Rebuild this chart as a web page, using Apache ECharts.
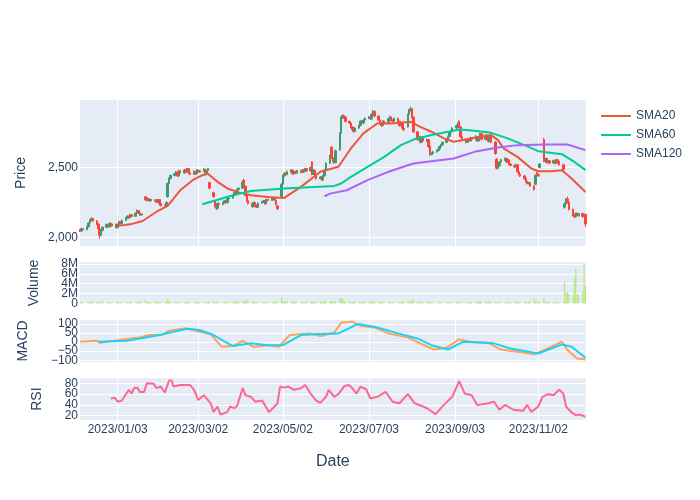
<!DOCTYPE html>
<html><head><meta charset="utf-8">
<script src="https://cdn.jsdelivr.net/npm/echarts@6/dist/echarts.min.js"></script>
<style>html,body{margin:0;padding:0;background:#fff}#chart{width:700px;height:500px}</style>
</head><body><div id="chart"></div>
<script>
// ---------- data ----------
const startDate = '2022-12-07';            // first trading day (business days follow)
const xTickDates = ['2023-01-03','2023-03-02','2023-05-02','2023-07-03','2023-09-03','2023-11-02'];
const priceTicks = [2000, 2500];
const volumeTicks = [0, 2, 4, 6, 8];        // millions
const macdTicks = [-100, -50, 0, 50, 100];
const rsiTicks = [20, 40, 60, 80];
const legendNames = ['SMA20', 'SMA60', 'SMA120'];

// [open, close, low, high] per business day, one line per week
const candles = [
[2055,2045,2038,2060],[2045,2062,2040,2068],[2062,2055,2048,2066],
[2055,2075,2050,2080],[2075,2102,2070,2108],[2102,2125,2098,2130],[2125,2135,2118,2142],[2135,2118,2110,2140],
[2118,2095,2088,2122],[2095,2060,2052,2100],[2060,2015,1990,2064],[2015,2050,2008,2056],[2050,2072,2044,2078],
[2072,2092,2066,2098],[2092,2075,2068,2096],[2075,2100,2070,2106],[2100,2082,2076,2104],[2082,2095,2078,2100],
[2095,2070,2062,2098],[2070,2092,2065,2097],[2092,2112,2088,2118],[2112,2098,2090,2115],[2098,2122,2094,2128],
[2122,2138,2118,2144],[2138,2152,2132,2158],[2152,2140,2134,2156],[2140,2162,2136,2168],[2162,2150,2144,2166],
[2150,2172,2146,2178],[2172,2192,2166,2200],[2192,2175,2168,2196],[2175,2160,2152,2180],[2160,2165,2154,2170],
[2290,2268,2262,2296],[2268,2280,2262,2286],[2280,2262,2256,2284],[2262,2272,2256,2278],[2272,2262,2255,2276],
[2262,2268,2256,2274],[2268,2252,2246,2272],[2252,2270,2248,2275],[2270,2242,2236,2274],[2242,2228,2220,2246],
[2228,2222,2212,2234],[2222,2250,2218,2256],[2290,2385,2285,2392],[2385,2420,2378,2428],[2420,2442,2414,2450],
[2442,2455,2436,2462],[2455,2468,2450,2475],[2468,2440,2432,2472],[2440,2478,2436,2485],[2478,2460,2452,2482],
[2460,2482,2455,2490],[2482,2470,2462,2488],[2470,2492,2465,2498],[2492,2462,2455,2495],[2462,2452,2444,2468],
[2452,2472,2448,2478],[2472,2455,2448,2476],[2455,2482,2450,2488],[2482,2468,2460,2486],[2468,2476,2462,2482],
[2476,2488,2470,2494],[2488,2462,2456,2492],[2462,2478,2458,2484],[2478,2492,2472,2498],[2392,2352,2345,2398],
[2320,2290,2284,2326],[2262,2222,2215,2268],[2222,2208,2196,2228],[2208,2242,2202,2248],[2242,2236,2228,2250],
[2236,2248,2230,2254],[2248,2262,2242,2268],[2262,2248,2240,2266],[2248,2276,2244,2282],[2276,2282,2270,2288],
[2282,2300,2276,2306],[2300,2322,2296,2328],[2322,2310,2304,2326],[2310,2342,2306,2348],[2342,2352,2336,2360],
[2352,2395,2348,2410],[2410,2365,2358,2418],[2365,2300,2292,2370],[2300,2262,2254,2305],[2262,2242,2235,2268],
[2242,2220,2212,2246],[2220,2250,2215,2256],[2250,2232,2226,2255],[2232,2215,2208,2236],[2215,2245,2210,2250],
[2245,2252,2240,2258],[2252,2262,2246,2268],[2262,2240,2234,2266],[2240,2270,2236,2276],[2270,2265,2258,2276],
[2265,2280,2260,2286],[2280,2268,2262,2284],[2268,2285,2262,2290],[2262,2235,2228,2266],[2225,2205,2196,2230],
[2290,2380,2286,2388],[2380,2440,2376,2448],[2440,2458,2434,2466],[2458,2450,2442,2464],[2450,2470,2444,2478],
[2470,2482,2464,2488],[2482,2455,2448,2486],[2455,2472,2450,2478],[2472,2460,2452,2476],[2460,2478,2455,2484],
[2478,2465,2458,2482],[2465,2482,2460,2488],[2482,2470,2462,2486],[2470,2492,2466,2498],[2492,2476,2470,2496],
[2476,2500,2470,2506],[2540,2450,2444,2545],[2450,2480,2445,2486],[2480,2440,2432,2484],[2440,2420,2412,2446],
[2420,2432,2414,2438],[2432,2410,2404,2436],[2410,2440,2406,2446],[2440,2480,2436,2488],[2480,2530,2476,2540],
[2530,2580,2526,2590],[2645,2570,2562,2652],[2570,2545,2538,2575],[2545,2535,2526,2552],[2535,2620,2530,2628],
[2625,2745,2620,2752],[2745,2855,2740,2865],[2855,2872,2848,2880],[2872,2860,2850,2878],[2860,2830,2822,2866],
[2830,2818,2810,2836],[2818,2790,2782,2822],[2790,2770,2762,2796],[2770,2758,2750,2776],[2758,2782,2752,2788],
[2782,2800,2776,2806],[2800,2832,2796,2838],[2832,2818,2810,2836],[2818,2840,2812,2846],[2840,2852,2834,2858],
[2852,2862,2846,2868],[2862,2848,2840,2866],[2848,2880,2844,2886],[2880,2902,2874,2910],[2902,2868,2860,2906],
[2868,2840,2834,2872],[2840,2822,2814,2846],[2822,2800,2792,2826],[2800,2832,2796,2838],[2832,2818,2810,2836],
[2818,2850,2814,2856],[2850,2862,2844,2870],[2862,2840,2832,2866],[2840,2830,2822,2846],[2830,2852,2826,2858],
[2852,2830,2824,2856],[2830,2800,2792,2834],[2800,2822,2796,2828],[2822,2782,2776,2826],[2782,2770,2762,2788],
[2790,2880,2786,2886],[2880,2910,2874,2918],[2910,2920,2900,2935],[2920,2860,2852,2926],[2860,2755,2748,2864],
[2755,2700,2692,2760],[2700,2722,2694,2728],[2722,2680,2672,2726],[2680,2712,2676,2718],[2712,2690,2682,2716],
[2690,2700,2684,2708],[2700,2650,2642,2704],[2650,2592,2584,2655],[2592,2602,2586,2608],[2602,2612,2596,2618],
[2612,2622,2606,2628],[2622,2632,2616,2638],[2632,2650,2626,2656],[2650,2662,2644,2668],[2662,2680,2656,2686],
[2680,2700,2674,2706],[2700,2722,2694,2728],[2722,2750,2716,2756],[2750,2762,2744,2770],[2762,2782,2756,2790],
[2782,2800,2776,2808],[2800,2815,2794,2822],[2830,2790,2782,2838],[2790,2720,2712,2795],[2720,2702,2694,2726],
[2702,2680,2672,2706],[2680,2702,2676,2708],[2702,2690,2682,2706],[2690,2712,2686,2720],[2712,2700,2692,2716],
[2700,2722,2694,2730],[2722,2690,2684,2726],[2690,2712,2686,2718],[2712,2742,2706,2750],[2742,2702,2694,2746],
[2702,2730,2696,2736],[2730,2700,2692,2734],[2700,2688,2680,2706],[2688,2722,2682,2728],[2722,2682,2674,2726],
[2682,2600,2592,2690],[2560,2495,2486,2566],[2495,2512,2488,2518],[2512,2540,2506,2546],[2540,2555,2534,2562],
[2555,2565,2548,2572],[2565,2540,2532,2570],[2540,2555,2534,2562],[2555,2525,2518,2560],[2525,2515,2508,2530],
[2515,2505,2498,2520],[2505,2520,2500,2526],[2520,2470,2462,2524],[2470,2452,2444,2476],[2452,2440,2432,2458],
[2440,2420,2412,2444],[2420,2400,2392,2426],[2400,2385,2378,2406],[2385,2392,2378,2398],[2392,2368,2360,2396],
[2368,2342,2334,2372],[2380,2445,2375,2452],[2462,2448,2440,2470],[2448,2440,2432,2456],[2500,2525,2494,2530],
[2700,2550,2540,2712],[2550,2565,2540,2572],[2565,2535,2528,2570],[2535,2548,2530,2555],[2548,2532,2524,2552],
[2532,2550,2526,2556],[2550,2530,2522,2555],[2530,2555,2526,2562],[2555,2545,2536,2560],[2545,2520,2512,2550],
[2520,2485,2478,2526],[2215,2240,2205,2250],[2240,2275,2232,2282],[2275,2250,2242,2292],[2250,2200,2192,2256],
[2200,2160,2150,2206],[2160,2148,2138,2170],[2148,2172,2142,2178],[2172,2155,2146,2178],[2155,2170,2148,2176],
[2170,2150,2140,2175],[2150,2165,2144,2170],[2165,2095,2075,2170]
];

// daily volume in millions, one line per week
const volumeM = [
0.25,0.2,0.3,
0.2,0.3,0.25,0.35,0.6,
0.3,0.25,0.4,0.2,0.6,
0.15,0.2,0.25,0.2,0.3,
0.2,0.25,0.3,0.2,0.25,
0.3,0.2,0.25,0.35,0.2,
0.25,0.3,0.2,0.25,0.3,
0.7,0.35,0.3,0.25,0.2,
0.25,0.3,0.2,0.3,0.25,
0.3,0.35,1.0,0.5,0.4,
0.3,0.25,0.2,0.3,0.2,
0.25,0.2,0.3,0.25,0.2,
0.15,0.3,0.2,0.25,0.2,
0.2,0.25,0.2,0.3,0.35,
0.3,0.25,0.2,0.2,0.25,
0.2,0.25,0.3,0.2,0.25,
0.3,0.35,0.4,0.45,0.5,
0.55,0.4,0.45,0.7,0.45,
0.4,0.35,0.3,0.25,0.3,
0.2,0.25,0.3,0.2,0.25,
0.2,0.25,0.3,0.25,0.2,
1.3,0.5,0.45,0.4,0.45,
0.4,0.35,0.5,0.3,0.25,
0.3,0.2,0.25,0.3,0.35,
0.3,0.4,0.3,0.35,0.3,
0.35,0.4,0.35,0.4,0.45,
0.4,0.45,0.4,0.35,0.5,
1.0,1.1,0.9,0.5,0.45,
0.4,0.35,0.3,0.35,0.3,
0.3,0.25,0.3,0.25,0.3,
0.35,0.3,0.3,0.55,0.45,
0.3,0.25,0.3,0.2,0.25,
0.25,0.2,0.3,0.25,0.2,
0.25,0.3,0.35,0.3,0.35,
0.4,0.5,0.4,0.45,0.9,
0.45,0.35,0.3,0.25,0.3,
0.25,0.3,0.4,0.2,0.2,
0.15,0.2,0.15,0.2,0.2,
0.2,0.25,0.2,0.3,0.25,
0.3,0.35,0.3,0.25,0.2,
0.2,0.25,0.2,0.2,0.3,
0.35,0.3,0.5,0.45,0.4,
0.4,0.45,0.4,0.35,0.3,
0.3,0.25,0.2,0.25,0.2,
0.2,0.2,0.25,0.2,0.2,
0.25,0.2,0.2,0.3,0.25,
0.2,0.3,0.25,0.35,0.4,
1.2,0.45,0.35,0.3,0.3,
1.2,0.45,0.35,0.3,0.25,
0.2,0.25,0.2,0.15,0.2,
0.3,4.3,2.2,2.2,1.9,
1.7,5.2,7.0,1.7,1.8,
2.5,8.0,3.7
];

const sma20 = [['2023-01-03',2082],['2023-01-12',2093],['2023-01-21',2117],['2023-02-01',2190],['2023-02-08',2225],['2023-02-17',2337],['2023-02-26',2409],['2023-03-05',2445],['2023-03-09',2455],['2023-03-16',2397],['2023-03-23',2350],['2023-04-01',2320],['2023-04-09',2301],['2023-04-21',2289],['2023-05-03',2282],['2023-05-15',2361],['2023-05-29',2469],['2023-06-11',2505],['2023-06-20',2636],['2023-06-29',2744],['2023-07-09',2815],['2023-07-19',2815],['2023-08-02',2827],['2023-08-09',2791],['2023-08-17',2756],['2023-08-26',2708],['2023-09-02',2684],['2023-09-09',2696],['2023-09-20',2720],['2023-09-29',2732],['2023-10-04',2696],['2023-10-08',2636],['2023-10-18',2576],['2023-10-28',2493],['2023-11-02',2473],['2023-11-11',2473],['2023-11-19',2480],['2023-11-26',2421],['2023-12-06',2325]];
const sma60 = [['2023-03-05',2237],['2023-03-27',2301],['2023-04-09',2332],['2023-05-03',2349],['2023-06-08',2368],['2023-06-13',2385],['2023-06-20',2433],['2023-07-02',2505],['2023-07-14',2576],['2023-07-26',2660],['2023-08-04',2700],['2023-08-17',2732],['2023-08-29',2755],['2023-09-06',2772],['2023-09-17',2763],['2023-09-29',2748],['2023-10-11',2708],['2023-10-23',2660],['2023-11-02',2617],['2023-11-19',2595],['2023-11-28',2540],['2023-12-06',2481]];
const sma120 = [['2023-06-01',2294],['2023-06-05',2313],['2023-06-17',2337],['2023-07-02',2409],['2023-07-17',2469],['2023-08-04',2528],['2023-08-23',2552],['2023-09-02',2564],['2023-09-17',2612],['2023-10-04',2643],['2023-10-18',2660],['2023-11-06',2665],['2023-11-23',2665],['2023-12-06',2624]];
const macd = [['2022-12-07',2],['2022-12-19',7],['2022-12-21',-4],['2023-01-04',11],['2023-01-19',26],['2023-01-26',39],['2023-02-04',39],['2023-02-09',63],['2023-02-21',76],['2023-02-22',67],['2023-03-03',57],['2023-03-11',44],['2023-03-19',-26],['2023-03-27',-22],['2023-04-03',7],['2023-04-11',-26],['2023-04-21',-17],['2023-04-29',-26],['2023-05-07',39],['2023-05-21',48],['2023-05-29',33],['2023-06-08',52],['2023-06-13',107],['2023-06-21',113],['2023-06-27',89],['2023-07-07',81],['2023-07-17',48],['2023-07-31',26],['2023-08-09',-7],['2023-08-19',-41],['2023-08-28',-31],['2023-09-06',15],['2023-09-15',0],['2023-09-27',-4],['2023-10-06',-41],['2023-10-18',-54],['2023-10-30',-67],['2023-11-06',-44],['2023-11-19',2],['2023-11-23',-44],['2023-11-30',-91],['2023-12-06',-96]];
const signal = [['2022-12-20',2],['2023-01-10',7],['2023-02-02',39],['2023-02-22',74],['2023-03-03',67],['2023-03-13',39],['2023-03-27',-22],['2023-04-09',-7],['2023-04-21',-17],['2023-05-02',-17],['2023-05-15',39],['2023-05-29',44],['2023-06-11',48],['2023-06-20',81],['2023-06-25',100],['2023-07-07',85],['2023-07-24',48],['2023-08-07',20],['2023-08-17',-17],['2023-08-29',-41],['2023-09-09',2],['2023-10-01',-7],['2023-10-13',-35],['2023-11-02',-63],['2023-11-19',-13],['2023-11-26',-26],['2023-12-06',-87]];
const rsi = [['2022-12-29',52],['2023-01-01',53],['2023-01-03',46],['2023-01-06',48],['2023-01-11',68],['2023-01-13',61],['2023-01-15',72],['2023-01-17',72],['2023-01-19',64],['2023-01-22',64],['2023-01-24',80],['2023-01-29',79],['2023-01-31',71],['2023-02-03',74],['2023-02-06',63],['2023-02-09',85],['2023-02-11',85],['2023-02-12',74],['2023-02-17',77],['2023-02-24',77],['2023-02-27',68],['2023-03-02',49],['2023-03-06',58],['2023-03-11',43],['2023-03-13',27],['2023-03-16',37],['2023-03-18',22],['2023-03-23',27],['2023-03-25',37],['2023-03-28',34],['2023-03-30',38],['2023-04-03',71],['2023-04-05',58],['2023-04-09',55],['2023-04-12',46],['2023-04-17',48],['2023-04-22',27],['2023-04-28',42],['2023-04-30',74],['2023-05-03',72],['2023-05-06',74],['2023-05-10',68],['2023-05-15',71],['2023-05-18',77],['2023-05-22',61],['2023-05-26',48],['2023-05-29',44],['2023-06-02',55],['2023-06-04',68],['2023-06-08',55],['2023-06-11',60],['2023-06-15',74],['2023-06-18',77],['2023-06-20',74],['2023-06-24',61],['2023-06-27',74],['2023-07-01',69],['2023-07-04',52],['2023-07-09',55],['2023-07-15',64],['2023-07-20',46],['2023-07-25',43],['2023-07-31',60],['2023-08-05',43],['2023-08-11',37],['2023-08-15',32],['2023-08-20',23],['2023-08-26',40],['2023-09-01',55],['2023-09-06',84],['2023-09-10',61],['2023-09-15',58],['2023-09-19',40],['2023-09-27',43],['2023-10-01',46],['2023-10-05',31],['2023-10-09',40],['2023-10-15',31],['2023-10-22',29],['2023-10-25',40],['2023-10-28',27],['2023-11-02',37],['2023-11-05',55],['2023-11-09',60],['2023-11-13',58],['2023-11-17',68],['2023-11-20',61],['2023-11-22',37],['2023-11-26',26],['2023-11-29',21],['2023-12-02',22],['2023-12-06',18]];

// ---------- build ----------
function parseD(s){const p=s.split('-');return new Date(+p[0],+p[1]-1,+p[2]).getTime();}
const days=[];
(function(){let d=new Date(parseD(startDate));
 while(days.length<candles.length){const w=d.getDay(); if(w!==0&&w!==6) days.push(d.getTime());
   d=new Date(d.getFullYear(),d.getMonth(),d.getDate()+1);} })();
const candleData = candles.map((c,i)=>[days[i],c[0],c[1],c[2],c[3]]);
const volData = volumeM.map((v,i)=>[days[i],v]);
const toPts = a => a.map(p=>[parseD(p[0]),p[1]]);
const xTicks = xTickDates.map(parseD);
const evens = a => a.filter((_,i)=>i%2===0), odds = a => a.filter((_,i)=>i%2===1);

const TXT='#2a3f5f', FONT='Liberation Sans, Arial, sans-serif', BG='#E5ECF6';
const X_MIN = new Date(2022,11,6,20,10).getTime();
const X_MAX = new Date(2023,11,6,3,40).getTime();
const pad = n => (n<10?'0':'')+n;
const fmtDate = v => {const d=new Date(v);return d.getFullYear()+'/'+pad(d.getMonth()+1)+'/'+pad(d.getDate());};
const fmtVol = v => v===0?'0':v+'M';
const fmtMacd = v => v<0?'\u2212'+(-v):String(v);
const fmtPrice = v => v.toLocaleString('en-US');

function grid(top,h){return {left:80,right:114.3,top:top,height:h,show:true,backgroundColor:BG,borderWidth:0,containLabel:false,outerBoundsMode:'none'};}
function xAx(gi,labels,split,name){
  const o={type:'value',gridIndex:gi,min:X_MIN,max:X_MAX,scale:true,
    axisLine:{show:false},axisTick:{show:false,customValues:xTicks},
    axisLabel:{show:labels,customValues:xTicks,formatter:fmtDate,color:TXT,fontSize:12,fontFamily:FONT,margin:4,hideOverlap:false},
    splitLine:{show:split,lineStyle:{color:'#ffffff',width:1}}};
  if(name){o.name=name;o.nameLocation='middle';o.nameGap=34;o.nameTextStyle={color:TXT,fontSize:16,fontFamily:FONT};}
  return o;
}
// main y axis: grid lines at all ticks, labels at part of them
function yAx(gi,min,max,ticks,labelVals,fmt,name,gap){
  return {type:'value',gridIndex:gi,position:'left',offset:0,min:min,max:max,name:name,nameLocation:'middle',nameRotate:90,nameGap:gap,
    nameTextStyle:{color:TXT,fontSize:14,fontFamily:FONT},
    axisLine:{show:false},axisTick:{show:false,customValues:ticks},
    axisLabel:{customValues:labelVals,formatter:fmt,color:TXT,fontSize:12,fontFamily:FONT,margin:2,hideOverlap:false,showMinLabel:true,showMaxLabel:true},
    splitLine:{show:true,lineStyle:{color:'#ffffff',width:1}}};
}
// companion axis in the same grid carrying the remaining tick labels
function yLab(gi,min,max,labelVals,fmt){
  return {type:'value',gridIndex:gi,position:'left',offset:0,min:min,max:max,
    axisLine:{show:false},axisTick:{show:false,customValues:labelVals},splitLine:{show:false},
    axisLabel:{customValues:labelVals,formatter:fmt,color:TXT,fontSize:12,fontFamily:FONT,margin:2,hideOverlap:false,showMinLabel:true,showMaxLabel:true}};
}
const line=(name,data,color,xi)=>({name:name,type:'line',xAxisIndex:xi,yAxisIndex:xi,data:data,showSymbol:false,symbol:'none',
  lineStyle:{color:color,width:2},itemStyle:{color:color},emphasis:{disabled:true}});

const VOL=[0,8.3], MAC=[-110,122], RS=[12,89.3];
const option={
  animation:false,
  backgroundColor:'#ffffff',
  textStyle:{fontFamily:FONT},
  grid:[grid(100,146),grid(262.5,41),grid(320,42),grid(378.3,41.7)],
  legend:{data:legendNames,orient:'vertical',left:596,top:104,icon:'rect',itemWidth:30,itemHeight:2,itemGap:5,
    textStyle:{color:TXT,fontSize:12,fontFamily:FONT,lineHeight:14},selectedMode:false},
  xAxis:[xAx(0,false,true),xAx(1,false,false),xAx(2,false,true),xAx(3,true,true,'Date')],
  yAxis:[
    yAx(0,1938,2983,priceTicks,priceTicks,fmtPrice,'Price',52),
    yAx(1,VOL[0],VOL[1],volumeTicks,evens(volumeTicks),fmtVol,'Volume',39),
    yAx(2,MAC[0],MAC[1],macdTicks,evens(macdTicks),fmtMacd,'MACD',50),
    yAx(3,RS[0],RS[1],rsiTicks,evens(rsiTicks),v=>String(v),'RSI',36),
    yLab(1,VOL[0],VOL[1],odds(volumeTicks),fmtVol),
    yLab(2,MAC[0],MAC[1],odds(macdTicks),fmtMacd),
    yLab(3,RS[0],RS[1],odds(rsiTicks),v=>String(v))
  ],
  series:[
    {name:'Price',type:'candlestick',xAxisIndex:0,yAxisIndex:0,data:candleData,barWidth:2,
      itemStyle:{color:'#3D9970',color0:'#FF4136',borderColor:'#3D9970',borderColor0:'#FF4136',borderWidth:1}},
    line('SMA20',toPts(sma20),'#EF553B',0),
    line('SMA60',toPts(sma60),'#00CC96',0),
    line('SMA120',toPts(sma120),'#AB63FA',0),
    {name:'Volume',type:'bar',xAxisIndex:1,yAxisIndex:1,data:volData,barWidth:1.2,itemStyle:{color:'#B6E880'}},
    line('MACD',toPts(macd),'#FFA15A',2),
    line('Signal',toPts(signal),'#19D3F3',2),
    line('RSI',toPts(rsi),'#FF6692',3)
  ]
};
echarts.init(document.getElementById('chart'),null,{renderer:'canvas'}).setOption(option);
</script></body></html>
